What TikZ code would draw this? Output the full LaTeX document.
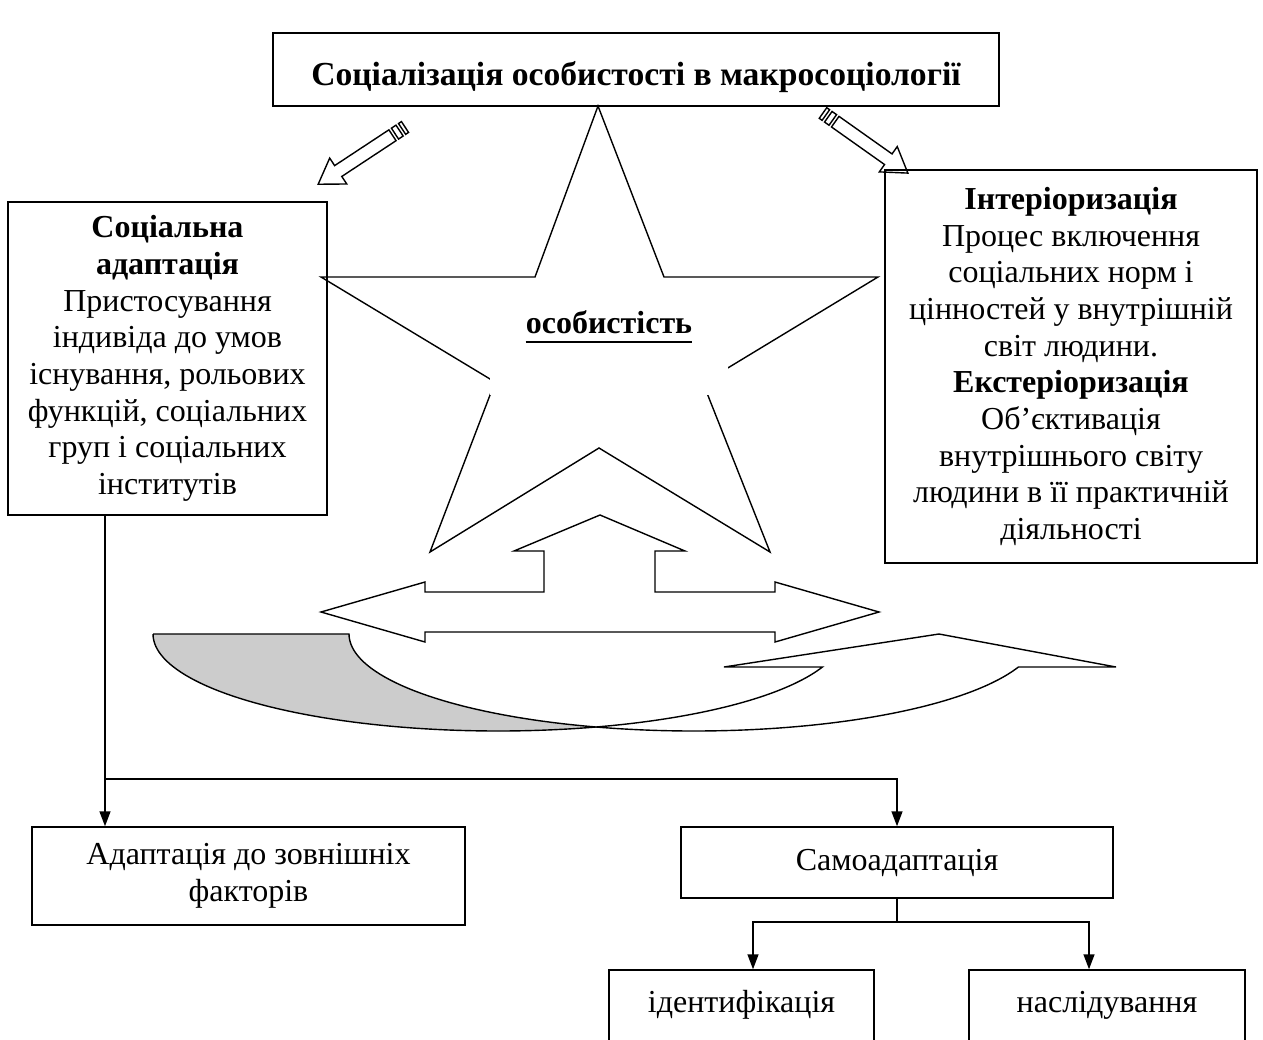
\documentclass[tikz,border=0pt]{standalone}
\usepackage{fontspec}
\setmainfont{Liberation Serif}
\usetikzlibrary{arrows.meta}

\newcommand{\bodysize}{\fontsize{32}{36.7}\selectfont}
\newcommand{\headsize}{\fontsize{33.6}{38}\selectfont}

\tikzset{
  textbox/.style={draw, line width=1.5pt, align=center, inner sep=0pt, font=\bodysize},
  outline/.style={draw, line width=1.4pt, line join=miter},
  link/.style={line width=1.5pt, -{Triangle[width=11pt,length=15pt]}},
}

% block arrow with stripes at the tail: tail x, tail y, direction
\newcommand{\pencilarrow}[3]{%
  \begin{scope}[shift={(#1,#2)}, rotate=#3]
    \draw[outline, fill=white] (0,-6.5) rectangle (3.5,6.5);
    \draw[outline, fill=white] (6.5,-6.5) rectangle (12,6.5);
    \draw[outline, fill=white] (15,-6.5) -- (80,-6.5) -- (80,-15.5) -- (104,0)
      -- (80,15.5) -- (80,6.5) -- (15,6.5) -- cycle;
  \end{scope}}

\begin{document}
\begin{tikzpicture}[x=1pt, y=-1pt]
  \useasboundingbox (0,0) rectangle (1263,1039);
  % Top
  \node[textbox, minimum width=726pt, minimum height=73pt, text height=31pt, text depth=0pt, font=\headsize\bfseries] (title) at (636,69.5) {Соціалізація особистості в макросоціології};
  \pencilarrow{405}{127}{213.4}
  \pencilarrow{823}{113}{-35.3}
  % Star
  \draw[outline] (598,106) -- (664,277) -- (878,277) -- (703,383) -- (770,552) -- (599,448)
    -- (430,552) -- (495,382) -- (321,277) -- (535,277) -- cycle;
  \fill[white] (490,300) rectangle (728,395);
  \node[inner sep=0pt, font=\bodysize\bfseries, anchor=base] (person) at (609,333) {особистість};
  \draw[line width=2.8pt] ([yshift=-9pt]person.base west) -- ([yshift=-9pt]person.base east);
  % Side boxes
  \node[textbox, minimum width=319pt, minimum height=313pt] (adapt) at (167.5,358.5)
    {\textbf{Соціальна}\\ \textbf{адаптація}\\ Пристосування\\ індивіда до умов\\ існування, рольових\\ функцій, соціальних\\ груп і соціальних\\ інститутів};
  \node[textbox, minimum width=372pt, minimum height=393pt] (inter) at (1071,366.5)
    {\textbf{Інтеріоризація}\\ Процес включення\\ соціальних норм і\\ цінностей у внутрішній\\ світ людини.\\ \textbf{Екстеріоризація}\\ Об’єктивація\\ внутрішнього світу\\ людини в її практичній\\ діяльності};
  % Block arrows
  \draw[outline, fill=white] (600,515) -- (685,551) -- (655,551) -- (655,592) -- (775,592) -- (775,582)
    -- (879,612) -- (775,642) -- (775,632) -- (425,632) -- (425,642) -- (321,612) -- (425,582)
    -- (425,592) -- (544,592) -- (544,551) -- (514,551) -- cycle;
  % Curved arrow
  \draw[outline, fill=gray!40] (153,634) -- (349,634)
    -- plot[domain=180:253.5, samples=40] ({694+345*cos(\x)},{634-97*sin(\x)})
    -- plot[domain=286.5:180, samples=60] ({498+345*cos(\x)},{634-97*sin(\x)}) -- cycle;
  \draw[outline, fill=white] plot[domain=286.5:340.1, samples=40] ({498+345*cos(\x)},{634-97*sin(\x)})
    -- (724,667) -- (939,634) -- (1116,667)
    -- plot[domain=340.1:253.5, samples=60] ({694+345*cos(\x)},{634-97*sin(\x)}) -- cycle;
  % Lower boxes
  \node[textbox, minimum width=433pt, minimum height=98pt] (extf) at (248.5,876) {Адаптація до зовнішніх\\ факторів};
  \node[textbox, minimum width=432pt, minimum height=71pt] (selfad) at (897,862.5) {Самоадаптація};
  \node[textbox, minimum width=265pt, text height=42pt, text depth=60pt, anchor=base] (ident) at (741.5,1012) {ідентифікація};
  \node[textbox, minimum width=276pt, text height=42pt, text depth=60pt, anchor=base] (imit) at (1107,1012) {наслідування};
  % Connectors
  \coordinate (split) at (105,779);
  \coordinate (fork) at (897,922);
  \draw[line width=1.5pt] (adapt.south -| split) -- (split);
  \draw[link] (split) -- (extf.north -| split);
  \draw[link] (split) -| (selfad.north);
  \draw[line width=1.5pt] (selfad.south) -- (fork);
  \draw[link] (fork) -| ([xshift=11.5pt]ident.north);
  \draw[link] (fork) -| ([xshift=-18pt]imit.north);
\end{tikzpicture}
\end{document}
